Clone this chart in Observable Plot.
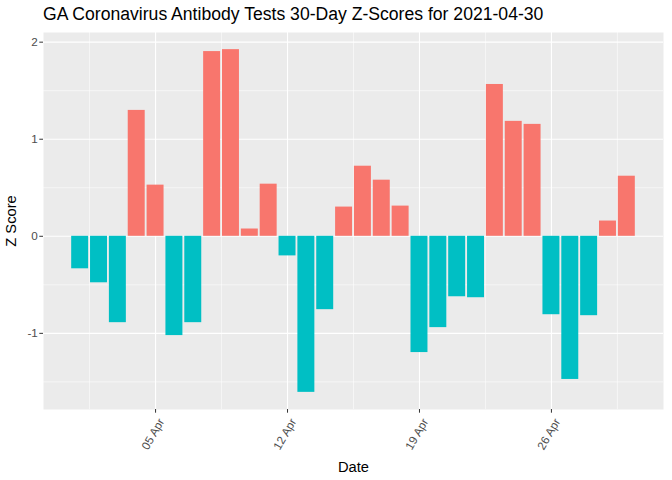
<!DOCTYPE html>
<html>
<head>
<meta charset="utf-8">
<script src="https://cdn.jsdelivr.net/npm/d3@7"></script>
<script src="https://cdn.jsdelivr.net/npm/@observablehq/plot@0.6"></script>
<style>
  html, body { margin: 0; padding: 0; background: #fff; }
  body { width: 672px; height: 480px; overflow: hidden; font-family: "Liberation Sans", Arial, sans-serif; }
  #title { height: 30px; box-sizing: border-box; padding-left: 43px; padding-top: 4px; font-size: 17.6px; line-height: 20px; color: #000; white-space: nowrap; }
  #chart svg { display: block; font-family: "Liberation Sans", Arial, sans-serif; }
</style>
</head>
<body>
<div id="title">GA Coronavirus Antibody Tests 30-Day Z-Scores for 2021-04-30</div>
<div id="chart"></div>
<script>
const dates = [
  "2021-04-01","2021-04-02","2021-04-03","2021-04-04","2021-04-05","2021-04-06","2021-04-07",
  "2021-04-08","2021-04-09","2021-04-10","2021-04-11","2021-04-12","2021-04-13","2021-04-14",
  "2021-04-15","2021-04-16","2021-04-17","2021-04-18","2021-04-19","2021-04-20","2021-04-21",
  "2021-04-22","2021-04-23","2021-04-24","2021-04-25","2021-04-26","2021-04-27","2021-04-28",
  "2021-04-29","2021-04-30"
];
const zScores = [
  -0.335, -0.479, -0.890, 1.297, 0.527, -1.023, -0.890,
  1.903, 1.923, 0.075, 0.537, -0.202, -1.608, -0.756,
  0.301, 0.722, 0.578, 0.311, -1.198, -0.941, -0.623,
  -0.633, 1.564, 1.184, 1.153, -0.808, -1.475, -0.818,
  0.157, 0.619
];
const xTickLabels = ["2021-04-05","2021-04-12","2021-04-19","2021-04-26"];
const yTicks = [-1, 0, 1, 2];
const yMinor = [-1.5, -0.5, 0.5, 1.5];

const posColor = "#F8766D";
const negColor = "#00BFC4";

const DAY = 864e5;
const parse = d3.utcParse("%Y-%m-%d");
const data = dates.map((d, i) => ({date: parse(d), z: zScores[i]}));
const xTicks = xTickLabels.map(parse);
const xMinor = [...xTicks.map(t => new Date(+t - 3.5 * DAY)), new Date(+xTicks[xTicks.length - 1] + 3.5 * DAY)];

const halfBar = 0.45 * DAY;
const [dMin, dMax] = d3.extent(data, d => +d.date);
const xSpan = (dMax + halfBar) - (dMin - halfBar);
const xDomain = [new Date(dMin - halfBar - 0.05 * xSpan), new Date(dMax + halfBar + 0.05 * xSpan)];
const yLo = Math.min(0, d3.min(zScores)), yHi = Math.max(0, d3.max(zScores));
const ySpan = yHi - yLo;
const yDomain = [yLo - 0.05 * ySpan, yHi + 0.05 * ySpan];

const plot = Plot.plot({
  width: 672,
  height: 450,
  marginLeft: 43,
  marginRight: 9,
  marginTop: 2,
  marginBottom: 71,
  style: {fontFamily: "Liberation Sans, Arial, sans-serif", background: "white"},
  x: {type: "utc", domain: xDomain},
  y: {domain: yDomain},
  marks: [
    Plot.frame({fill: "#EBEBEB", stroke: null}),
    Plot.ruleX(xMinor, {stroke: "white", strokeWidth: 0.55}),
    Plot.ruleY(yMinor, {stroke: "white", strokeWidth: 0.55}),
    Plot.ruleX(xTicks, {stroke: "white", strokeWidth: 1.1}),
    Plot.ruleY(yTicks, {stroke: "white", strokeWidth: 1.1}),
    Plot.rect(data, {
      x1: d => new Date(+d.date - halfBar),
      x2: d => new Date(+d.date + halfBar),
      y1: () => 0,
      y2: "z",
      fill: d => d.z > 0 ? posColor : negColor
    }),
    Plot.axisX({
      ticks: xTicks,
      tickFormat: d3.utcFormat("%d %b"),
      tickRotate: -60,
      tickSize: 0,
      tickPadding: 0,
      dx: 6,
      dy: 10,
      fontSize: 11.7,
      fill: "#4D4D4D",
      stroke: null,
      label: null
    }),
    Plot.axisX({
      ticks: xTicks,
      tickFormat: () => "",
      tickSize: 3.7,
      stroke: "#333333",
      label: "Date",
      labelAnchor: "center",
      labelArrow: false,
      labelOffset: 62,
      fill: "#000"
    }),
    Plot.axisY({
      ticks: yTicks,
      tickFormat: d => String(d),
      tickSize: 3.7,
      tickPadding: 2,
      fontSize: 11.7,
      fill: "#4D4D4D",
      stroke: "#333333",
      label: "Z Score",
      labelAnchor: "center",
      labelArrow: false,
      labelOffset: 38
    })
  ]
});
document.getElementById("chart").appendChild(plot);
plot.querySelectorAll('g[aria-label="x-axis label"] text, g[aria-label="y-axis label"] text').forEach(t => {
  t.style.fontSize = "14.7px";
  t.setAttribute("fill", "#000");
});
</script>
</body>
</html>
